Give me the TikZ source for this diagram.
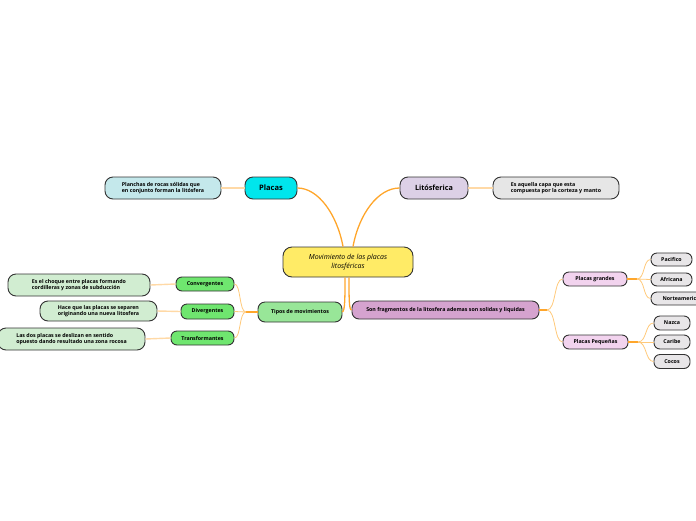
\documentclass[tikz,border=0pt]{standalone}
\usepackage{fontspec}
\setmainfont{Open Sans}
\usetikzlibrary{calc}
\definecolor{omain}{HTML}{FFA62B}
\definecolor{osub}{HTML}{FFC97A}
\definecolor{oleaf}{HTML}{FFD9A6}
\definecolor{cyel}{HTML}{FFEB66}
\definecolor{ccyan}{HTML}{00E6EC}
\definecolor{clblue}{HTML}{C4E8EB}
\definecolor{clav}{HTML}{DCD0E6}
\definecolor{cgray}{HTML}{E6E6E6}
\definecolor{cgreen}{HTML}{98E698}
\definecolor{cbgreen}{HTML}{6FE66F}
\definecolor{clgreen}{HTML}{D1EDD1}
\definecolor{cmauve}{HTML}{D5A3CF}
\definecolor{cpink}{HTML}{F2D3EE}
\definecolor{cleaf}{HTML}{E8E6E8}
\definecolor{cborder}{HTML}{333333}
\begin{document}
\begin{tikzpicture}[x=1pt,y=-1pt,
  box/.style={draw=cborder, line width=0.9pt, rounded corners=6pt, inner sep=1pt,
    font=\bfseries\fontsize{5.3}{6.5}\selectfont, align=left},
  bigbox/.style={box, rounded corners=9pt},
  mainline/.style={draw=omain, line width=1.3pt},
  subline/.style={draw=osub, line width=0.8pt},
  stubline/.style={draw=omain, line width=1.1pt},
  leafline/.style={draw=oleaf, line width=1.4pt}
]
\useasboundingbox (0,0) rectangle (696,520);

% central
\node[bigbox, fill=cyel, minimum width=130pt, minimum height=30pt, align=center,
  font=\itshape\fontsize{7}{9}\selectfont] (c) at (348,262)
  {Movimiento de las placas\\litosféricas};

% top branch
\node[box, fill=ccyan, minimum width=52pt, minimum height=22pt, rounded corners=8pt,
  font=\bfseries\fontsize{7.5}{9}\selectfont] (pl) at (271,188) {Placas};
\node[box, fill=clblue, minimum width=116pt, minimum height=22pt, rounded corners=8pt] (pla) at (163,188)
  {Planchas de rocas sólidas que\\en conjunto forman la litósfera};
\node[box, fill=clav, minimum width=68pt, minimum height=22pt, rounded corners=8pt,
  font=\bfseries\fontsize{7.2}{9}\selectfont] (li) at (434,188) {Litósferica};
\node[box, fill=cgray, minimum width=126pt, minimum height=22pt, rounded corners=8pt] (es) at (556,188)
  {Es aquella capa que esta\\compuesta por la corteza y manto};

% left branch
\node[box, fill=cgreen, minimum width=84pt, minimum height=20pt, rounded corners=7pt] (ti) at (300,312) {Tipos de movimientos};
\node[box, fill=cbgreen, minimum width=58pt, minimum height=14pt] (cv) at (205,284) {Convergentes};
\node[box, fill=cbgreen, minimum width=53pt, minimum height=15pt] (dv) at (207.5,311.5) {Divergentes};
\node[box, fill=cbgreen, minimum width=63pt, minimum height=14pt] (tf) at (202.5,338) {Transformantes};
\node[box, fill=clgreen, minimum width=142pt, minimum height=22pt, rounded corners=8pt] (cvt) at (79,285)
  {Es el choque entre placas formando\\cordilleras y zonas de subducción};
\node[box, fill=clgreen, minimum width=117pt, minimum height=20pt, rounded corners=8pt] (dvt) at (98.5,311)
  {Hace que las placas se separen\\originando una nueva litosfera};
\node[box, fill=clgreen, minimum width=147pt, minimum height=22pt, rounded corners=8pt] (tft) at (71.5,339)
  {Las dos placas se deslizan en sentido\\opuesto dando resultado una zona rocosa};

% right branch
\node[box, fill=cmauve, minimum width=187pt, minimum height=18pt, rounded corners=7pt] (so) at (445.5,310)
  {Son fragmentos de la litosfera ademas son solidas y liquidas};
\node[box, fill=cpink, minimum width=64pt, minimum height=14pt] (pg) at (595,279) {Placas grandes};
\node[box, fill=cpink, minimum width=65pt, minimum height=14pt] (pp) at (595.5,342) {Placas Pequeñas};
\node[box, fill=cleaf, minimum width=41pt, minimum height=13pt] (pa) at (671.5,259.5) {Pacifico};
\node[box, fill=cleaf, minimum width=41pt, minimum height=13pt] (af) at (671.5,279.5) {Africana};
\node[box, fill=cleaf, minimum width=60pt, minimum height=13pt] (na) at (681,298.5) {Norteamerica};
\node[box, fill=cleaf, minimum width=36pt, minimum height=14pt] (nz) at (672,323) {Nazca};
\node[box, fill=cleaf, minimum width=36pt, minimum height=14pt] (ca) at (672,342) {Caribe};
\node[box, fill=cleaf, minimum width=36pt, minimum height=14pt] (co) at (672,361.5) {Cocos};

% junction coordinates
\coordinate (tj) at (246,312);
\coordinate (sj) at (547,310);
\coordinate (gj) at (637,279);
\coordinate (pj) at (638,342);

% connectors from central
\draw[mainline] ($(c.north)+(-5,0)$) .. controls (337,214) and (318,188) .. (pl.east);
\draw[mainline] ($(c.north)+(5,0)$) .. controls (359,214) and (378,188) .. (li.west);
\draw[mainline] ($(c.south)+(-3,0)$) .. controls (345,298) and (345,310) .. (ti.east);
\draw[mainline] ($(c.south)+(1,0)$) .. controls (349,298) and (349,310) .. (so.west);

\draw[leafline] (pl.west) -- (pla.east);
\draw[leafline] (li.east) -- (es.west);
\draw[leafline] (cv.west) -- (cvt.east);
\draw[leafline] (dv.west) -- (dvt.east);
\draw[leafline] (tf.west) -- (tft.east);

\draw[stubline] (ti.west) -- (tj);
\draw[subline] (tj) .. controls (239,312) and (241,284) .. (cv.east);
\draw[subline] (tj) -- (dv.east);
\draw[subline] (tj) .. controls (239,312) and (241,338) .. (tf.east);

\draw[stubline] (so.east) -- (sj);
\draw[subline] (sj) .. controls (556,310) and (554,279) .. (pg.west);
\draw[subline] (sj) .. controls (556,310) and (554,342) .. (pp.west);

\draw[stubline] (pg.east) -- (gj);
\draw[subline] (gj) .. controls (645,279) and (643,259.5) .. (pa.west);
\draw[subline] (gj) -- (af.west);
\draw[subline] (gj) .. controls (645,279) and (643,298.5) .. (na.west);

\draw[stubline] (pp.east) -- (pj);
\draw[subline] (pj) .. controls (647,342) and (645,323) .. (nz.west);
\draw[subline] (pj) -- (ca.west);
\draw[subline] (pj) .. controls (647,342) and (645,361.5) .. (co.west);
\end{tikzpicture}
\end{document}
